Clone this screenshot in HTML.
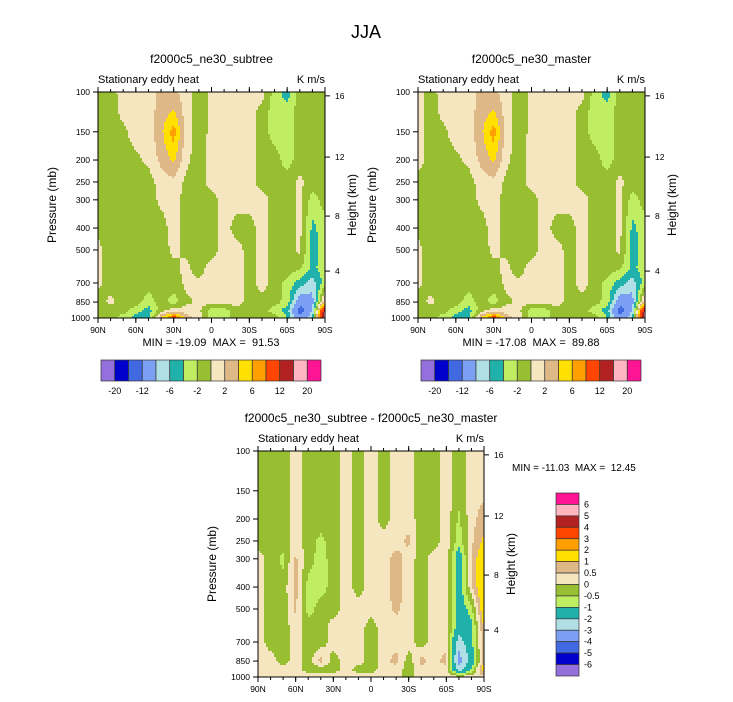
<!DOCTYPE html>
<html><head><meta charset="utf-8">
<style>
html,body{margin:0;padding:0;background:#fff;}
svg{display:block;font-family:"Liberation Sans",Arial,sans-serif;}
</style></head>
<body>
<svg id="root" width="733" height="702" viewBox="0 0 733 702" xmlns="http://www.w3.org/2000/svg">
<text x="366" y="38" font-size="18" text-anchor="middle">JJA</text>
</svg>
<script>
// ---------- data ----------
const lats = ["90N","80N","70N","60N","50N","40N","30N","20N","10N","0","10S","20S","30S","40S","50S","60S","70S","80S","90S"];
const levels = [100,125,150,200,250,300,400,500,600,700,850,925,1000];
const pTicks = [100,150,200,250,300,400,500,700,850,1000];
const xTickLabels = ["90N","60N","30N","0","30S","60S","90S"];
const hTicks = [16,12,8,4];
const hTickP = [104,194,354,620]; // pressure of height ticks (approx)
const absBounds = [-20,-16,-12,-8,-6,-4,-2,0,2,4,6,8,12,16,20];
const absLabels = ["-20","-12","-6","-2","2","6","12","20"];
const diffBounds = [-6,-5,-4,-3,-2,-1,-0.5,0,0.5,1,2,3,4,5,6];
const diffLabels = ["-6","-5","-4","-3","-2","-1","-0.5","0","0.5","1","2","3","4","5","6"];
const colors = ["#9370DB","#0000CD","#4169E1","#7B9FF2","#B0E0E6","#20B2AA","#C0EE62","#98BF32","#F5E6C0","#DEB887","#FFE000","#FFA000","#FF4500","#B22222","#FFB6C1","#FF1493"];

const fieldSubtree = [
[-1,-1,1,1,1,2.5,2.5,1,-1,0.5,1,1,1,1,-3,-5,-1,-1,-1],
[-1,-1,0.5,1,1,3,4.5,1,-1,0.5,1,1,1,-1,-3,-3,-1,-1,-1],
[-1,-1,-0.5,1,1,3.5,7,1,-1,0.5,1,1,1,-1,-3,-3,-1,-1,-1],
[-1,-1,-1,-0.5,0.5,2.5,4.5,0.5,-1,1,1,1,1,-1,-1,-3,-1,-1,-1],
[-1,-1,-1,-1,-1,1,1.5,-0.5,-1,1,1,1,1,-1,-1,-1,0.5,-1,-1],
[-1,-1,-1,-1,-1,0.5,1,-1,-1,-1,1,1,1,1,-1,-1,0.5,-3,-1],
[-0.5,-1,-1,-1,-1,-1,1,-1,-1,-1,1,-1,-1,1,-1,-1,0.5,-4.5,-3],
[0.5,-1,-1,-1,-1,-1,0.5,-0.5,-1,-1,1,1,-1,1,-1,-1,0.5,-5,-3],
[0.5,-1,-1,-1,-1,-1,-0.5,0.5,-1,1,1,1,-1,1,-1,-1,-1.5,-4.5,-3],
[0.5,-1,-1,-1,-1,-1,-1,0.5,0.5,1,1,1,-1,1,-1,-2.5,-5,-7,-3],
[-1,0.5,-1,-1,-3,-1,-3,-0.5,0.5,1,1,1,-1,-1,-1,-3,-10,-9,4],
[-1,-1,-1,-3,-5,-1,1,1,0.5,-3,-3,-1,-1,-1,-3,-5,-14,-8,15],
[-1,-1,-3,-5,-5,4,10,3,1,-3,-3,-1,-1,-1,-1,-4,-10,-6,20]
];
const fieldMaster = [
[1,-1,1,1,1,2.5,2.5,1,-1,0.5,1,1,1,1,-3,-5,-1,-1,-1],
[1,-1,0.5,1,1,3,4.5,1,-1,0.5,1,1,1,-1,-3,-3,-1,-1,-1],
[1,-1,-0.5,1,1,3.5,7,1,-1,0.5,1,1,1,-1,-3,-3,-1,-1,-1],
[1,-1,-1,-0.5,0.5,2.5,4.5,0.5,-1,1,1,1,1,-1,-1,-3,-1,-1,-1],
[-1,-1,-1,-1,-1,1,1.5,-0.5,-1,1,1,1,1,-1,-1,-1,0.5,-1,-1],
[-1,-1,-1,-1,-1,0.5,1,-1,-1,-1,1,1,1,1,-1,-1,0.5,-3,-1],
[-0.5,-1,-1,-1,-1,-1,1,-1,-1,-1,1,-1,-1,1,-1,-1,0.5,-4.5,-3],
[0.5,-1,-1,-1,-1,-1,0.5,-0.5,-1,-1,1,1,-1,1,-1,-1,0.5,-5,-3],
[0.5,-1,-1,-1,-1,-1,-0.5,0.5,-1,1,1,1,-1,1,-1,-1,-1.5,-4.5,-3],
[0.5,-1,-1,-1,-1,-1,-1,0.5,0.5,1,1,1,-1,1,-1,-2.5,-5,-7,-3],
[-1,0.5,-1,-1,-3,-1,-3,-0.5,0.5,1,1,1,-1,-1,-1,-3,-10,-9,4],
[-1,-1,-1,-3,-5,-1,1,1,0.5,-3,-3,-1,-1,-1,-3,-5,-14,-8,15],
[-1,-1,-3,-5,-5,4,10,3,1,-3,-3,-1,-1,-1,-1,-4,-10,-6,20]
];
const fieldDiff = [
[-0.3,-0.3,-0.3,0.3,-0.3,-0.3,-0.3,0.3,-0.3,0.3,-0.3,0.3,0.3,-0.3,-0.3,0.3,-0.3,0.3,0.3],
[-0.3,-0.3,-0.3,0.3,-0.3,-0.3,-0.3,0.3,-0.3,0.3,-0.3,0.3,0.3,-0.3,-0.3,0.3,-0.3,0.3,0.3],
[-0.3,-0.3,-0.3,0.3,-0.3,-0.3,-0.3,0.3,-0.3,0.3,-0.3,0.3,0.3,-0.3,-0.3,0.3,-0.3,0.3,0.3],
[-0.3,-0.3,-0.3,0.3,-0.3,-0.3,-0.3,0.3,-0.3,0.3,-0.3,0.3,0.3,-0.3,-0.3,0.3,-0.6,0.3,0.8],
[-0.3,-0.3,-0.3,0.3,-0.3,-0.6,-0.3,0.3,-0.3,0.3,0.3,0.3,0.6,-0.3,-0.3,0.3,-0.8,0.4,1.1],
[0.3,-0.3,-0.6,0.6,-0.3,-0.7,-0.3,0.3,-0.3,0.3,0.3,0.7,0.3,-0.3,0.3,0.3,-1.5,0.4,1.8],
[0.3,-0.3,-0.3,0.7,-0.7,-0.7,-0.3,0.3,-0.3,0.3,0.3,0.7,0.3,-0.3,0.3,0.3,-1.5,0.4,1.8],
[0.3,-0.3,-0.3,0.6,-0.7,-0.3,-0.3,0.3,0.3,0.3,0.3,0.6,0.3,-0.3,0.3,0.3,-1.5,-0.7,1.6],
[0.3,-0.3,-0.3,0.3,-0.3,-0.3,0.3,0.3,0.3,-0.3,0.3,0.3,0.3,-0.3,0.3,0.3,-1.5,-1.2,1.1],
[0.3,-0.3,-0.3,0.3,-0.3,-0.3,0.3,0.3,0.3,-0.3,0.3,0.3,0.3,-0.3,0.3,0.3,-2.5,-1.2,0.9],
[0.3,0.3,-0.3,0.3,-0.3,0.7,-0.3,0.3,0.3,-0.3,0.3,0.7,-0.3,0.7,0.3,0.7,-3.5,-1.5,0.8],
[0.3,0.3,0.3,0.3,-0.3,-0.3,-0.3,0.3,-0.3,-0.3,0.3,0.3,-0.3,0.3,0.3,0.3,-2.5,-1,1.5],
[0.3,0.3,0.3,0.3,0.3,0.3,0.3,0.3,0.3,0.3,0.3,0.3,-0.3,0.3,0.3,0.3,0.3,0.3,0.3]
];

// ---------- drawing ----------
const NS = "http://www.w3.org/2000/svg";
const root = document.getElementById("root");
function mk(tag, attrs, parent){
  const e = document.createElementNS(NS, tag);
  for (const k in attrs) e.setAttribute(k, attrs[k]);
  (parent||root).appendChild(e);
  return e;
}
function txt(x,y,s,size,anchor,parent){
  const t = mk("text",{x:x,y:y,"font-size":size,"text-anchor":anchor||"middle"},parent);
  t.textContent = s;
  return t;
}
function classify(v,b){ let i=0; while(i<b.length && v>=b[i]) i++; return i; }

function panel(name, L, T, W, H, field, bounds, title){
  const g = mk("g",{});
  
  
  const lp0 = Math.log10(100), lp1 = Math.log10(1000);
  const yOfP = p => T + (Math.log10(p)-lp0)/(lp1-lp0)*H;
  const cell = 2;
  const cg = mk("g",{"shape-rendering":"crispEdges"},g);
  
  
  const ly = levels.map(p=>Math.log10(p));
  for (let py=0; py<H; py+=cell){
    const lpv = lp0 + (py+cell/2)/H*(lp1-lp0);
    let r=0; while(r<levels.length-2 && ly[r+1]<lpv) r++;
    const fy = Math.min(1,Math.max(0,(lpv-ly[r])/(ly[r+1]-ly[r])));
    let runStart=0, runCls=-1;
    const nx = Math.ceil(W/cell);
    for (let ix=0; ix<=nx; ix++){
      let cls=-2;
      if (ix<nx){
        const fx = (ix*cell+cell/2)/W*(lats.length-1);
        let c = Math.min(lats.length-2, Math.floor(fx));
        const tx = fx-c;
        const v = (1-fy)*((1-tx)*field[r][c]+tx*field[r][c+1]) + fy*((1-tx)*field[r+1][c]+tx*field[r+1][c+1]);
        cls = classify(v,bounds);
      }
      if (cls!==runCls){
        if (runCls>=0){
          const w = Math.min(ix*cell, W) - runStart*cell;
          const rc = mk("rect",{x:L+runStart*cell,y:T+py,width:w,height:Math.min(cell,H-py),fill:colors[runCls]},cg);
          
          
        }
        runStart=ix; runCls=cls;
      }
    }
  }
  const fr = mk("rect",{x:L,y:T,width:W,height:H,fill:"none",stroke:"#000","stroke-width":1},g);
  
  
  for (let k=0;k<xTickLabels.length;k++){
    const x = L + k/(xTickLabels.length-1)*W;
    mk("line",{x1:x,y1:T+H,x2:x,y2:T+H+5,stroke:"#000"},g);
    mk("line",{x1:x,y1:T,x2:x,y2:T-5,stroke:"#000"},g);
    const t = txt(x,T+H+15,xTickLabels[k],8.5,"middle",g);
    
    
  }
  for (let k=0;k<=18;k++){
    const x = L + k/18*W;
    mk("line",{x1:x,y1:T+H,x2:x,y2:T+H+3,stroke:"#000"},g);
    mk("line",{x1:x,y1:T,x2:x,y2:T-3,stroke:"#000"},g);
  }
  for (const p of pTicks){
    const y = yOfP(p);
    mk("line",{x1:L,y1:y,x2:L-5,y2:y,stroke:"#000"},g);
    const t = txt(L-8,y+3,String(p),8.5,"end",g);
    
    
  }
  for (let k=0;k<hTicks.length;k++){
    const y = yOfP(hTickP[k]);
    mk("line",{x1:L+W,y1:y,x2:L+W+5,y2:y,stroke:"#000"},g);
    const t = txt(L+W+10,y+3,String(hTicks[k]),8.5,"start",g);
    
    
  }
  const yt = txt(0,0,"Pressure (mb)",12,"middle",g);
  yt.setAttribute("transform","translate("+(L-42)+","+(T+H/2)+") rotate(-90)");
  
  
  const ht = txt(0,0,"Height (km)",12,"middle",g);
  ht.setAttribute("transform","translate("+(L+W+31)+","+(T+H/2)+") rotate(-90)");
  
  
  const lt = txt(L,T-9,"Stationary eddy heat",11,"start",g);
  
  
  const rt = txt(L+W,T-9,"K m/s",11,"end",g);
  
  
  const tt = txt(L+W/2,T-29,title,12,"middle",g);
  
  
  return g;
}

panel("panel-subtree",98,92,227,226,fieldSubtree,absBounds,"f2000c5_ne30_subtree");
panel("panel-master",418,92,227,226,fieldMaster,absBounds,"f2000c5_ne30_master");
panel("panel-difference",258,451,226,226,fieldDiff,diffBounds,"f2000c5_ne30_subtree - f2000c5_ne30_master");

const NB = "\u00a0";
let m = txt(211,346,"MIN = -19.09"+NB+NB+"MAX ="+NB+NB+"91.53",11,"middle");


m = txt(531,346,"MIN = -17.08"+NB+NB+"MAX ="+NB+NB+"89.88",11,"middle");


m = txt(512,471,"MIN = -11.03"+NB+NB+"MAX ="+NB+NB+"12.45",10,"start");



function hbar(name, L){
  const g = mk("g",{});
  
  
  const w = 220/colors.length;
  colors.forEach((c,i)=>{
    const r = mk("rect",{x:L+i*w,y:360,width:w,height:21,fill:c,stroke:"#333","stroke-width":0.7},g);
    
    
  });
  absLabels.forEach((s,k)=>{
    const t = txt(L+(2*k+1)*w,394,s,9,"middle",g);
    
    
  });
}
hbar("colorbar-subtree",101);
hbar("colorbar-master",421);

(function(){
  const g = mk("g",{});
  
  
  const T=493, h=183/colors.length;
  for (let i=0;i<colors.length;i++){
    const c = colors[colors.length-1-i];
    const r = mk("rect",{x:556,y:T+i*h,width:23,height:h,fill:c,stroke:"#333","stroke-width":0.7},g);
    
    
  }
  for (let k=0;k<diffLabels.length;k++){
    const y = T + (k+1)*h;
    const t = txt(584,y+3,diffLabels[diffLabels.length-1-k],9,"start",g);
    
    
  }
})();
</script>
</body></html>
